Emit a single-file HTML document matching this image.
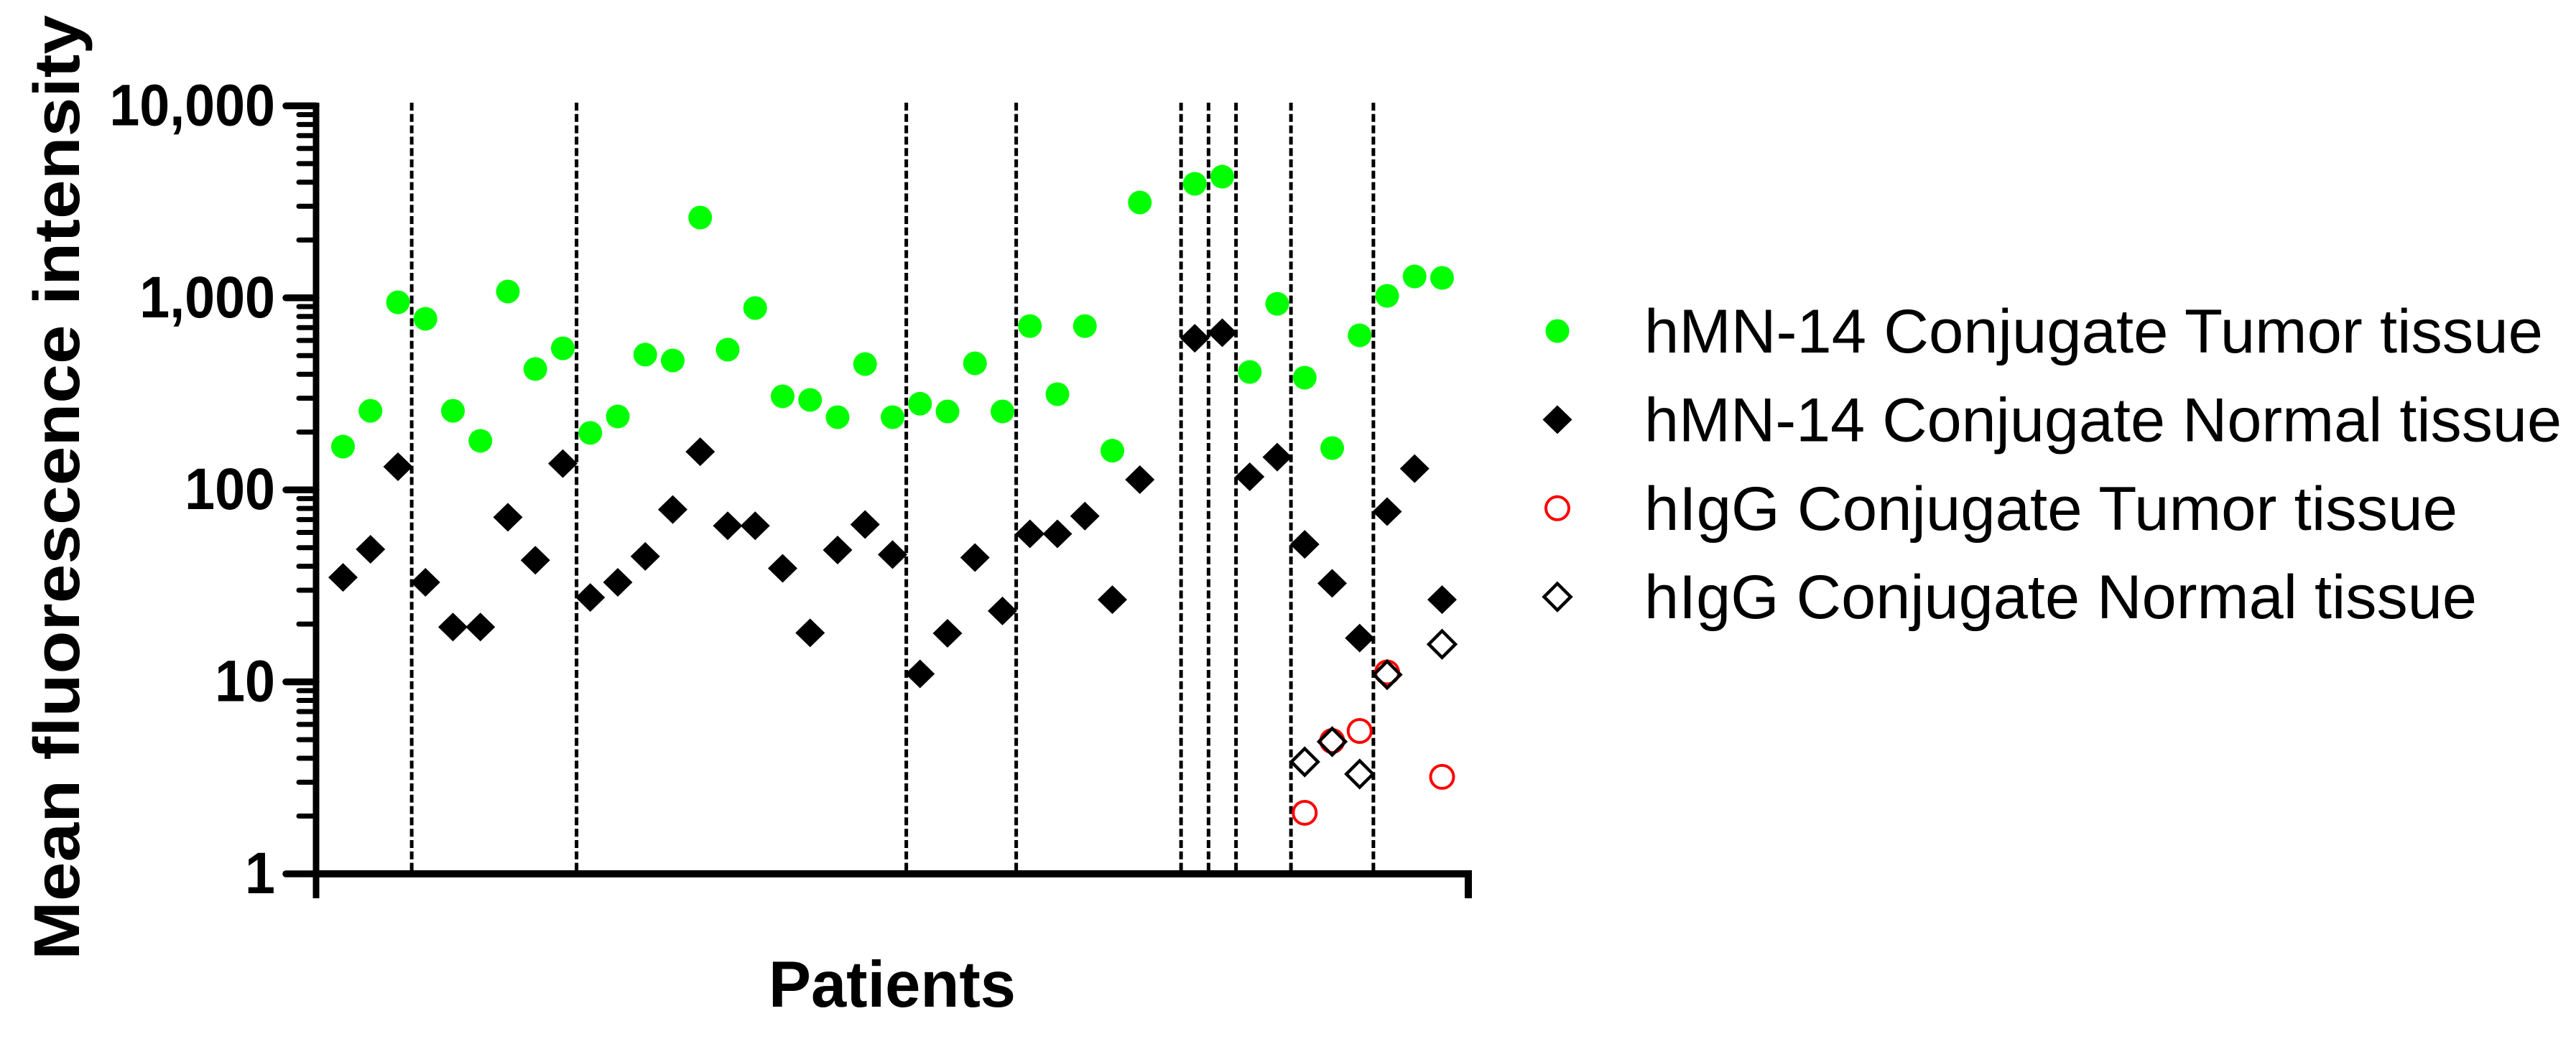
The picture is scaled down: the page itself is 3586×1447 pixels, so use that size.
<!DOCTYPE html>
<html lang="en">
<head>
<meta charset="utf-8">
<title>Mean fluorescence intensity by patient</title>
<style>
html,body{margin:0;padding:0;background:#fff;}
svg{display:block;}
text{font-family:"Liberation Sans",Arial,sans-serif;fill:#000;}
</style>
</head>
<body>
<svg id="chart" xmlns="http://www.w3.org/2000/svg" width="3586" height="1447" viewBox="0 0 3586 1447">
  <rect x="0" y="0" width="3586" height="1447" fill="#fff"/>
  <g id="separators"></g>
  <g id="axes"></g>
  <g id="series"></g>
  <text transform="translate(110,1337) rotate(-90)" font-size="90" font-weight="bold" textLength="1316" lengthAdjust="spacingAndGlyphs">Mean fluorescence intensity</text>
  <text x="1070" y="1402" font-size="91" font-weight="bold" textLength="344" lengthAdjust="spacingAndGlyphs">Patients</text>
  <g id="legend"></g>
</svg>
<script>
const yTickValues = [1, 10, 100, 1000, 10000];
const yTickLabels = ["1", "10", "100", "1,000", "10,000"];
const minorMultipliers = [2, 3, 4, 5, 6, 7, 8, 9];
const patientCount = 41;
const separatorPositions = [2.5, 8.5, 20.5, 24.5, 30.5, 31.5, 32.5, 34.5, 37.5];

const hmnTumor = [168, 258, 948, 778, 258, 180, 1079, 426, 546, 198, 241, 506, 472, 2618, 537, 885, 307, 294, 239, 452, 239, 281, 256, 456, 256, 713, 315, 713, 160, 3139, null, 3926, 4276, 411, 931, 384, 165, 638, 1024, 1292, 1270];
const hmnNormal = [35, 49, 132, 33, 19.3, 19.3, 72, 43, 137, 27.5, 33, 45, 79, 158, 65, 65, 39, 18, 48.6, 66, 46, 11, 17.9, 44.4, 23.4, 59, 59, 73, 26.8, 113, null, 616, 658, 117, 148, 52, 32.6, 16.9, 77, 129, 26.8];
const iggPatients = [35, 36, 37, 38, 40];
const iggTumor = [2.08, 4.92, 5.55, 11.2, 3.2];
const iggNormal = [3.83, 4.88, 3.31, 10.9, 15.7];
const legendLabels = ["hMN-14 Conjugate Tumor tissue", "hMN-14 Conjugate Normal tissue", "hIgG Conjugate Tumor tissue", "hIgG Conjugate Normal tissue"];

const NS = "http://www.w3.org/2000/svg";
function xScale(i) { return 477.5 + 38.25 * i; }
function yScale(v) { return 1217 - 267.4 * Math.log10(v); }
function make(tag, attrs, parent) {
  const el = document.createElementNS(NS, tag);
  for (const k in attrs) el.setAttribute(k, attrs[k]);
  parent.appendChild(el);
  return el;
}
function dPath(cx, cy, rx, ry) {
  return "M" + cx + " " + (cy - ry) + "L" + (cx + rx) + " " + cy + "L" + cx + " " + (cy + ry) + "L" + (cx - rx) + " " + cy + "Z";
}

const sepG = document.getElementById("separators");
separatorPositions.forEach(function (p) {
  const line = make("line", {x1: xScale(p), x2: xScale(p), y1: 143, y2: 1212, stroke: "#000", "stroke-width": 5, "stroke-dasharray": "11 4.8"}, sepG);
  
  
});

const axG = document.getElementById("axes");
const yAxisLine = make("rect", {x: 435.5, y: 143, width: 9, height: 1108, fill: "#000"}, axG);


const xAxisLine = make("rect", {x: 436, y: 1212, width: 1613, height: 10, fill: "#000"}, axG);


const xAxisEnd = make("rect", {x: 2039, y: 1212, width: 10, height: 39, fill: "#000"}, axG);



yTickValues.forEach(function (v, idx) {
  const y = yScale(v);
  const tick = make("line", {x1: 398, x2: 440, y1: y, y2: y, stroke: "#000", "stroke-width": 9.5, "stroke-linecap": "round"}, axG);
  
  
  const label = make("text", {transform: "translate(383," + (y + 27) + ") scale(0.92,1)", "text-anchor": "end", "font-size": 82, "font-weight": "bold"}, axG);
  label.textContent = yTickLabels[idx];
  
  
  if (idx < yTickValues.length - 1) {
    minorMultipliers.forEach(function (m) {
      const my = yScale(v * m);
      const mt = make("line", {x1: 416, x2: 440, y1: my, y2: my, stroke: "#000", "stroke-width": 7, "stroke-linecap": "round"}, axG);
      
      
    });
  }
});

const seriesG = document.getElementById("series");
function drawCircleFilled(cx, cy, parent) {
  return make("circle", {cx: cx, cy: cy, r: 16.5, fill: "#00ff00"}, parent);
}
function drawDiamondFilled(cx, cy, parent) {
  return make("path", {d: dPath(cx, cy, 20.5, 20), fill: "#000"}, parent);
}
function drawCircleOpen(cx, cy, parent) {
  return make("circle", {cx: cx, cy: cy, r: 16, fill: "none", stroke: "#ff0000", "stroke-width": 4}, parent);
}
function drawDiamondOpen(cx, cy, parent) {
  return make("path", {d: dPath(cx, cy, 18.5, 18.5), fill: "none", stroke: "#000", "stroke-width": 4.5}, parent);
}

const hmnTumorG = make("g", {}, seriesG);


hmnTumor.forEach(function (v, i) {
  if (v === null) return;
  const el = drawCircleFilled(xScale(i), yScale(v), hmnTumorG);
  
  
});
const hmnNormalG = make("g", {}, seriesG);


hmnNormal.forEach(function (v, i) {
  if (v === null) return;
  const el = drawDiamondFilled(xScale(i), yScale(v), hmnNormalG);
  
  
});
const iggTumorG = make("g", {}, seriesG);


iggTumor.forEach(function (v, k) {
  const el = drawCircleOpen(xScale(iggPatients[k]), yScale(v), iggTumorG);
  
  
});
const iggNormalG = make("g", {}, seriesG);


iggNormal.forEach(function (v, k) {
  const el = drawDiamondOpen(xScale(iggPatients[k]), yScale(v), iggNormalG);
  
  
});

const legendG = document.getElementById("legend");
const legendMarkers = [drawCircleFilled, drawDiamondFilled, drawCircleOpen, drawDiamondOpen];
const legendEnds = [3540, 3566, 3421, 3448];
legendLabels.forEach(function (text, i) {
  const cy = 461 + 123.4 * i;
  const marker = legendMarkers[i](2168, cy, legendG);
  
  
  const t = make("text", {x: 2289, y: cy + 30, "font-size": 86, textLength: legendEnds[i] - 2289, lengthAdjust: "spacingAndGlyphs"}, legendG);
  t.textContent = text;
  
  
});
</script>
</body>
</html>
